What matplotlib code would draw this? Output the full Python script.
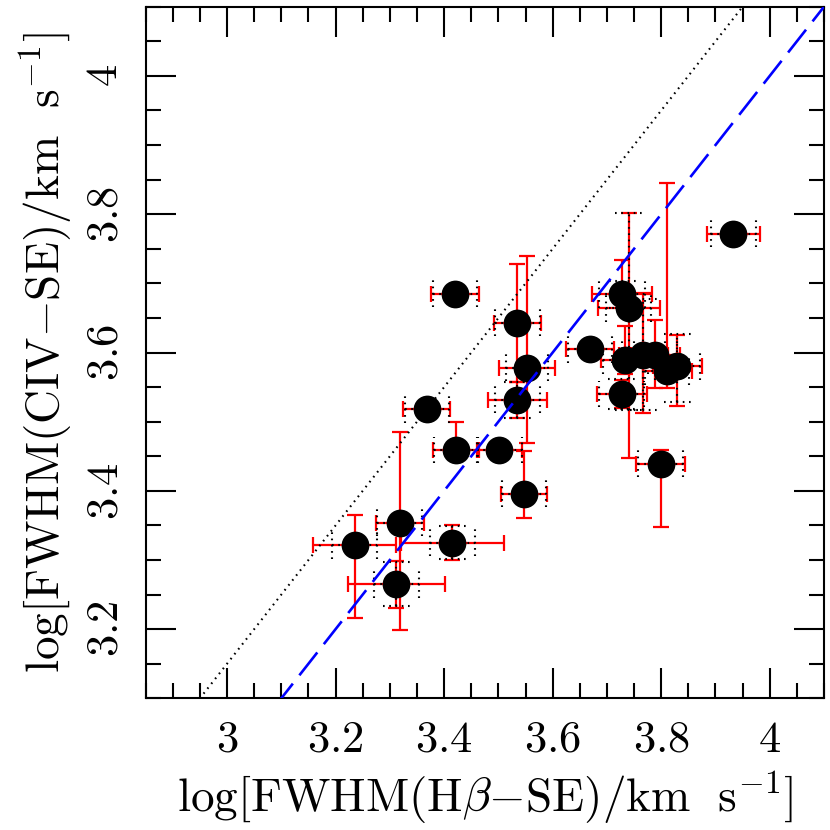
import numpy as np
import matplotlib
matplotlib.use("Agg")
import matplotlib.pyplot as plt
from matplotlib.ticker import MultipleLocator, FuncFormatter

plt.rcParams['mathtext.fontset'] = 'cm'
plt.rcParams['font.family'] = 'serif'
plt.rcParams['font.serif'] = ['DejaVu Serif']

# log FWHM(Hbeta-SE) and log FWHM(CIV-SE), km/s
x = np.array([3.420, 3.535, 3.553, 3.535, 3.368, 3.422, 3.502, 3.547, 3.318, 3.235, 3.415, 3.312,
              3.669, 3.728, 3.740, 3.734, 3.767, 3.789, 3.811, 3.830, 3.727, 3.799, 3.933])
y = np.array([3.685, 3.643, 3.578, 3.532, 3.518, 3.459, 3.459, 3.396, 3.354, 3.321, 3.325, 3.265,
              3.605, 3.684, 3.664, 3.589, 3.597, 3.597, 3.573, 3.580, 3.540, 3.439, 3.772])

# red (solid) errors
xerr_red = np.array([0.044, 0.044, 0.052, 0.054, 0.043, 0.042, 0.042, 0.043, 0.044, 0.076, 0.095, 0.090,
                     0.044, 0.055, 0.057, 0.045, 0.045, 0.045, 0.045, 0.046, 0.046, 0.045, 0.049])
yerr_red_lo = np.array([0, 0.085, 0.109, 0.026, 0, 0, 0, 0.035, 0.155, 0.105, 0.025, 0.034,
                        0, 0, 0.217, 0.02, 0.085, 0.048, 0.024, 0.057, 0.02, 0.092, 0])
yerr_red_hi = np.array([0, 0.085, 0.162, 0.025, 0, 0.040, 0, 0.061, 0.131, 0.044, 0.025, 0.033,
                        0, 0.050, 0.137, 0.05, 0.089, 0.050, 0.272, 0.046, 0.02, 0.02, 0])

# black (dotted) errors
xerr_dot = np.array([0.041, 0.041, 0.039, 0.042, 0.041, 0.041, 0.041, 0.041, 0.041, 0.041, 0.041, 0.042,
                     0.041, 0.042, 0.041, 0.041, 0.040, 0.040, 0.040, 0.041, 0.041, 0.041, 0.041])
yerr_dot_lo = np.array([0, 0, 0, 0.026, 0, 0, 0, 0, 0, 0, 0.024, 0.032,
                        0, 0.019, 0.147, 0, 0.08, 0, 0, 0.051, 0.021, 0, 0])
yerr_dot_hi = np.array([0, 0, 0, 0.026, 0, 0, 0, 0, 0, 0, 0.024, 0.032,
                        0, 0.019, 0.137, 0, 0.08, 0, 0, 0.047, 0.021, 0, 0])

fig = plt.figure(figsize=(8.3, 8.3), dpi=100)
ax = fig.add_axes([0.1755, 0.1587, 0.9928 - 0.1755, 0.9919 - 0.1587])
xmin, xmax, ymin, ymax = 2.85, 4.1, 3.1, 4.1

ax.errorbar(x, y, xerr=xerr_red, yerr=[yerr_red_lo, yerr_red_hi], fmt='none',
            ecolor='red', elinewidth=1.6, capsize=5.8, capthick=1.6, zorder=2)

dots = (0, (0.8, 2.2))
_, _, bars = ax.errorbar(x, y, xerr=xerr_dot, yerr=[yerr_dot_lo, yerr_dot_hi], fmt='none',
                         ecolor='black', elinewidth=1.5, capsize=0, zorder=3)
for b in bars:
    b.set_linestyle(dots)
# dotted caps
capx = 0.0195
capy = 0.025
ax.vlines(np.r_[x - xerr_dot, x + xerr_dot], np.r_[y, y] - capx, np.r_[y, y] + capx,
          colors='black', linestyles=[dots], linewidth=1.5, zorder=3)
m = (yerr_dot_lo > 0)
ax.hlines(np.r_[y[m] - yerr_dot_lo[m], y[m] + yerr_dot_hi[m]], np.r_[x[m], x[m]] - capy,
          np.r_[x[m], x[m]] + capy, colors='black', linestyles=[dots], linewidth=1.5, zorder=3)

ax.plot(x, y, 'o', color='black', markersize=20, markeredgewidth=0, zorder=4)

line = np.array([xmin, xmax])
ax.plot(line, line + 0.15, color='black', linestyle=(0, (0.8, 2.2)), linewidth=1.5, zorder=5)
ax.plot(line, line, color='blue', linestyle=(0, (11, 4)), linewidth=1.9, zorder=5)

ax.set_xlim(xmin, xmax)
ax.set_ylim(ymin, ymax)
ax.xaxis.set_major_locator(MultipleLocator(0.2))
ax.xaxis.set_minor_locator(MultipleLocator(0.05))
ax.yaxis.set_major_locator(MultipleLocator(0.2))
ax.yaxis.set_minor_locator(MultipleLocator(0.05))
fmt = FuncFormatter(lambda v, p: f'${v:g}$')
ax.xaxis.set_major_formatter(fmt)
ax.yaxis.set_major_formatter(fmt)
ax.tick_params(which='both', direction='in', top=True, right=True, width=1.5, labelsize=32)
ax.tick_params(which='major', length=21.6, pad=14)
ax.tick_params(which='minor', length=10.8)
for lab in ax.get_yticklabels():
    lab.set_rotation(90)
    lab.set_va('center')
for s in ax.spines.values():
    s.set_linewidth(1.5)

ax.set_xlabel(r'$\rm log[FWHM(H\beta{-}SE)/km\ \ s^{-1}]$', fontsize=34, labelpad=6)
ax.set_ylabel(r'$\rm log[FWHM(CIV{-}SE)/km\ \ s^{-1}]$', fontsize=34, labelpad=6)

fig.savefig('out.png', dpi=100)
